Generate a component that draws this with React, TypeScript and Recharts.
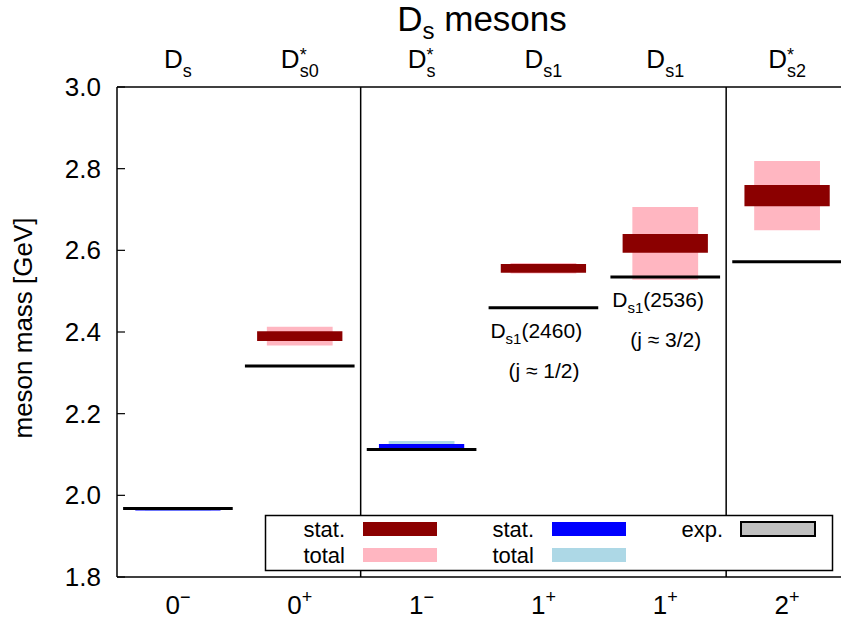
import React from "react";
import { ComposedChart, XAxis, YAxis, ReferenceArea, ReferenceLine, ReferenceDot } from "recharts";

// columns of the spectrum (x = 1..6)
const stateSup = ["", "*", "*", "", "", "*"];
const stateSub = ["s", "s0", "s", "s1", "s1", "s2"];
const spin = ["0", "0", "1", "1", "1", "2"];
const parity = ["−", "+", "−", "+", "+", "+"];

// masses in GeV
const expMass = [1.968, 2.317, 2.112, 2.4595, 2.535, 2.572];
const latMass = [1.9665, 2.39, 2.121, 2.556, 2.617, 2.734];
const statErr = [0.0035, 0.012, 0.005, 0.0107, 0.023, 0.026];
const totalErr = [0.0035, 0.023, 0.012, 0.013, 0.089, 0.085];

const yTicks = [1.8, 2.0, 2.2, 2.4, 2.6, 2.8, 3.0];
const xTicks = [1, 2, 3, 4, 5, 6];
const separators = [2.5, 5.5];

// experimental state names written under the exp. levels
const expNotes = [
  { col: 4, mass: "2460", j: "1/2" },
  { col: 5, mass: "2536", j: "3/2" },
];

const COLORS = {
  posStat: "#8b0000",
  posTotal: "#ffb6c1",
  negStat: "#0000ff",
  negTotal: "#add8e6",
  exp: "#000000",
  expKey: "#c0c0c0",
};

const FONT = "'Liberation Sans', Arial, Helvetica, sans-serif";

const EXP_HALF = 0.45;
const STAT_HALF = 0.35;
const TOTAL_HALF = 0.27;

const rows = xTicks.map((x, i) => ({
  x,
  exp: expMass[i],
  mass: latMass[i],
  stat: statErr[i],
  total: totalErr[i],
  neg: parity[i] === "−",
}));

function TopTick(p: any) {
  const i = xTicks.indexOf(p.payload.value);
  const sup = stateSup[i];
  return (
    <text x={p.x} y={p.y} textAnchor="middle" fontSize={26} fontFamily={FONT} fill="#000">
      <tspan>D</tspan>
      {sup ? (
        <tspan dy={-7} fontSize={18}>{sup}</tspan>
      ) : null}
      <tspan dx={sup ? -7 : 0} dy={sup ? 16 : 9} fontSize={18}>
        {stateSub[i]}
      </tspan>
    </text>
  );
}

function BottomTick(p: any) {
  const i = xTicks.indexOf(p.payload.value);
  return (
    <text x={p.x} y={p.y} textAnchor="middle" fontSize={26} fontFamily={FONT} fill="#000">
      <tspan>{spin[i]}</tspan>
      <tspan dy={-11} fontSize={18}>{parity[i]}</tspan>
    </text>
  );
}

function LeftTick(p: any) {
  return (
    <g>
      <line x1={p.x + 16} x2={p.x + 24} y1={p.y} y2={p.y} stroke="#000" strokeWidth={1.2} />
      <text x={p.x} y={p.y} dy={9} textAnchor="end" fontSize={26} fontFamily={FONT} fill="#000">
        {p.payload.value.toFixed(1)}
      </text>
    </g>
  );
}

function RightTick(p: any) {
  return <line x1={p.x - 8} x2={p.x} y1={p.y} y2={p.y} stroke="#000" strokeWidth={1.2} />;
}

function NoteShape(note: { mass: string; j: string }) {
  return (p: any) => (
    <g fontFamily={FONT} fontSize={21} fill="#000">
      <text x={p.cx - 53} y={p.cy + 30}>
        <tspan>D</tspan>
        <tspan dy={6} fontSize={15}>s1</tspan>
        <tspan dy={-6}>({note.mass})</tspan>
      </text>
      <text x={p.cx - 35} y={p.cy + 70}>(j ≈ {note.j})</text>
    </g>
  );
}

const legendItems = [
  { label: "stat.", color: COLORS.posStat, col: 0, row: 0 },
  { label: "total", color: COLORS.posTotal, col: 0, row: 1 },
  { label: "stat.", color: COLORS.negStat, col: 1, row: 0 },
  { label: "total", color: COLORS.negTotal, col: 1, row: 1 },
  { label: "exp.", color: COLORS.expKey, col: 2, row: 0 },
];

export default function App() {
  const ax = { xAxisId: "bottom", yAxisId: "left" };
  return (
    <div style={{ position: "absolute", left: 0, top: 0, width: 841, height: 627, overflow: "hidden", background: "#fff" }}>
      <ComposedChart width={860} height={627} data={rows} margin={{ top: 0, right: 12, bottom: 0, left: 0 }}>
        <XAxis
          xAxisId="bottom"
          type="number"
          dataKey="x"
          domain={[0.5, 6.5]}
          ticks={xTicks}
          interval={0}
          orientation="bottom"
          height={50}
          axisLine={{ stroke: "#000", strokeWidth: 1.5 }}
          tickLine={false}
          tickSize={0}
          tickMargin={37}
          tick={(p: any) => <BottomTick {...p} />}
          allowDataOverflow
        />
        <XAxis
          xAxisId="top"
          type="number"
          dataKey="x"
          domain={[0.5, 6.5]}
          ticks={xTicks}
          interval={0}
          orientation="top"
          height={87}
          axisLine={{ stroke: "#000", strokeWidth: 1.5 }}
          tickLine={false}
          tickSize={0}
          tickMargin={19}
          tick={(p: any) => <TopTick {...p} />}
          allowDataOverflow
        />
        <YAxis
          yAxisId="left"
          type="number"
          domain={[1.8, 3.0]}
          ticks={yTicks}
          interval={0}
          width={117}
          axisLine={{ stroke: "#000", strokeWidth: 1.5 }}
          tickLine={false}
          tickSize={0}
          tickMargin={16}
          tick={(p: any) => <LeftTick {...p} />}
          allowDataOverflow
        />
        <YAxis
          yAxisId="right"
          orientation="right"
          type="number"
          domain={[1.8, 3.0]}
          ticks={yTicks}
          interval={0}
          width={0}
          axisLine={{ stroke: "#000", strokeWidth: 1.5 }}
          tickLine={false}
          tickSize={0}
          tickMargin={0}
          tick={(p: any) => <RightTick {...p} />}
          allowDataOverflow
        />

        {separators.map((s) => (
          <ReferenceLine key={"sep" + s} {...ax} x={s} stroke="#000" strokeWidth={1.5} />
        ))}

        {rows.map((r) => (
          <ReferenceLine
            key={"exp" + r.x}
            {...ax}
            segment={[
              { x: r.x - EXP_HALF, y: r.exp },
              { x: r.x + EXP_HALF, y: r.exp },
            ]}
            stroke={COLORS.exp}
            strokeWidth={3}
            ifOverflow="visible"
          />
        ))}

        {rows.map((r) => (
          <ReferenceArea
            key={"tot" + r.x}
            {...ax}
            x1={r.x - TOTAL_HALF}
            x2={r.x + TOTAL_HALF}
            y1={r.mass - r.total}
            y2={r.mass + r.total}
            fill={r.neg ? COLORS.negTotal : COLORS.posTotal}
            fillOpacity={1}
            stroke="none"
          />
        ))}

        {rows.map((r) => (
          <ReferenceArea
            key={"stat" + r.x}
            {...ax}
            x1={r.x - STAT_HALF}
            x2={r.x + STAT_HALF}
            y1={r.mass - r.stat}
            y2={r.mass + r.stat}
            fill={r.neg ? COLORS.negStat : COLORS.posStat}
            fillOpacity={1}
            stroke="none"
          />
        ))}

        {expNotes.map((n) => (
          <ReferenceDot
            key={"note" + n.col}
            {...ax}
            x={n.col}
            y={expMass[n.col - 1]}
            r={0}
            shape={NoteShape(n)}
          />
        ))}
      </ComposedChart>

      <svg width={841} height={627} style={{ position: "absolute", left: 0, top: 0, pointerEvents: "none" }} fontFamily={FONT}>
        <text x={482} y={31} textAnchor="middle" fontSize={35}>
          <tspan>D</tspan>
          <tspan dy={8} fontSize={24}>s</tspan>
          <tspan dy={-8}> mesons</tspan>
        </text>
        <text x={32} y={328} textAnchor="middle" fontSize={26} transform="rotate(-90 32 328)">
          meson mass [GeV]
        </text>

        <rect x={265.5} y={515.5} width={567} height={55} fill="#fff" stroke="#000" strokeWidth={1.5} />
        {legendItems.map((it, k) => {
          const tx = 345 + it.col * 189;
          const sy = 522 + it.row * 26;
          const isExp = it.label === "exp.";
          return (
            <g key={k}>
              <text x={tx} y={sy + 15} textAnchor="end" fontSize={22}>
                {it.label}
              </text>
              <rect
                x={tx + 18}
                y={sy}
                width={74}
                height={14}
                fill={it.color}
                stroke={isExp ? "#000" : "none"}
                strokeWidth={isExp ? 2 : 0}
              />
            </g>
          );
        })}
      </svg>
    </div>
  );
}
